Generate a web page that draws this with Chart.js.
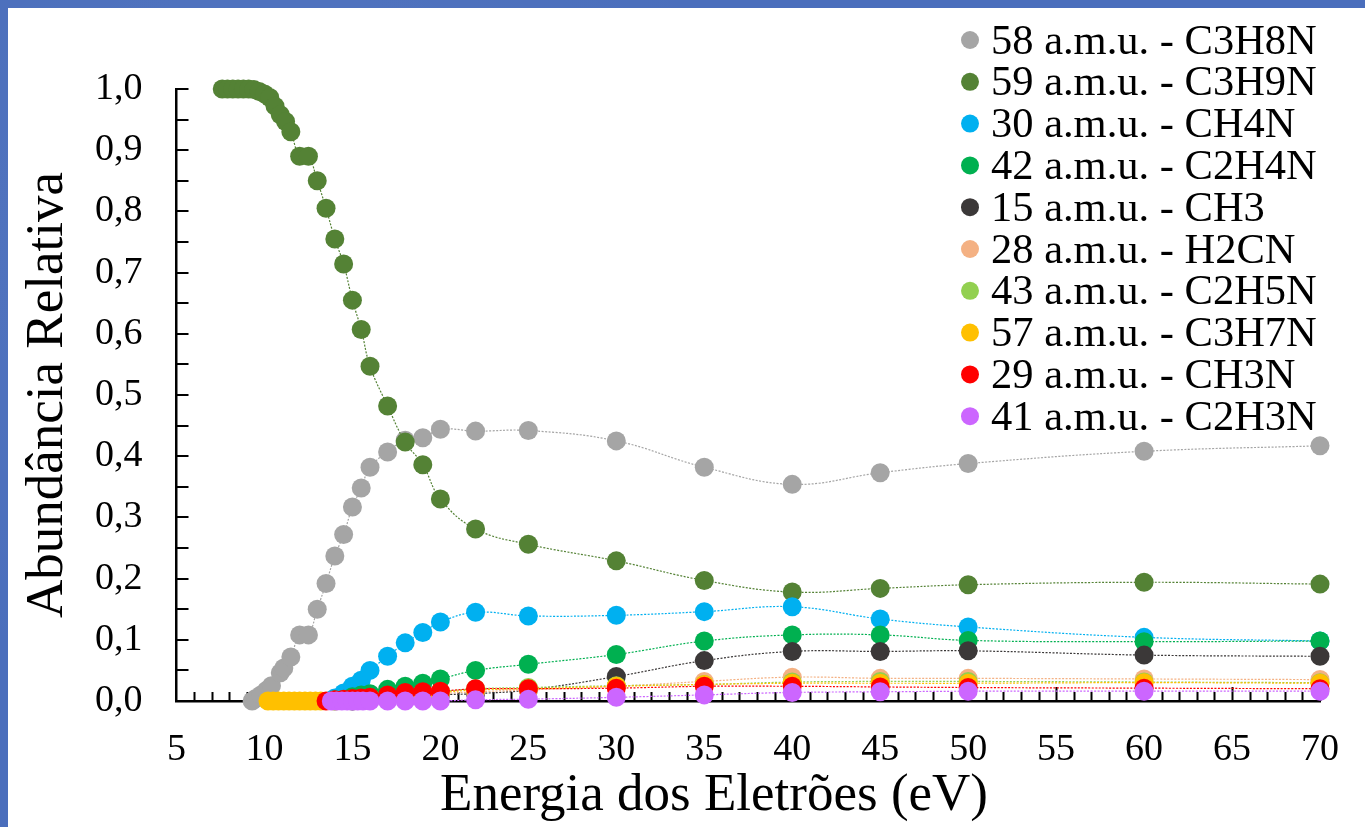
<!DOCTYPE html>
<html><head><meta charset="utf-8">
<script src="https://cdn.jsdelivr.net/npm/chart.js@4.4.1/dist/chart.umd.min.js"></script>
<style>
html,body{margin:0;padding:0;width:1365px;height:827px;overflow:hidden;}
body{background:#4a6ebc;background-image:radial-gradient(circle at 20% 30%,rgba(255,255,255,0.06),transparent 40%),radial-gradient(circle at 80% 70%,rgba(0,0,60,0.06),transparent 40%);}
#panel{position:absolute;left:8px;top:8px;right:0;bottom:0;background:#fff;}
#c{position:absolute;left:0;top:0;}
</style></head><body>
<div id="panel"></div>
<canvas id="c" width="1365" height="827"></canvas>
<script>
const seriesLabels = ['58 a.m.u. - C3H8N','59 a.m.u. - C3H9N','30 a.m.u. - CH4N','42 a.m.u. - C2H4N','15 a.m.u. - CH3','28 a.m.u. - H2CN','43 a.m.u. - C2H5N','57 a.m.u. - C3H7N','29 a.m.u. - CH3N','41 a.m.u. - C2H3N'];
const seriesColors = ['#A5A5A5','#548235','#00B0F0','#00B050','#3B3838','#F4B183','#92D050','#FFC000','#FF0000','#CC66FF'];

const e58 = [9.3,9.5,9.8,10.1,10.4,10.9,11.1,11.5,12,12.5,13,13.5,14,14.5,15,15.5,16,17,18,19,20,22,25,30,35,40,45,50,60,70];
const v58 = [0.000,0.004,0.010,0.017,0.025,0.046,0.054,0.072,0.108,0.108,0.150,0.192,0.237,0.272,0.317,0.348,0.382,0.407,0.426,0.430,0.444,0.441,0.442,0.425,0.382,0.354,0.373,0.388,0.408,0.417];

const e59 = [7.6,7.9,8.2,8.5,8.8,9.1,9.4,9.7,10.0,10.3,10.6,10.9,11.2,11.5,12,12.5,13,13.5,14,14.5,15,15.5,16,17,18,19,20,22,25,30,35,40,45,50,60,70];
const v59 = [1.000,1.000,1.000,1.000,1.000,1.000,0.999,0.996,0.992,0.986,0.972,0.958,0.947,0.930,0.890,0.890,0.850,0.805,0.755,0.714,0.655,0.607,0.547,0.482,0.423,0.386,0.330,0.281,0.256,0.229,0.197,0.178,0.184,0.190,0.194,0.191];

const e30 = [14,14.5,15,15.5,16,17,18,19,20,22,25,30,35,40,45,50,60,70];
const v30 = [0.005,0.013,0.024,0.034,0.050,0.073,0.095,0.112,0.129,0.145,0.139,0.140,0.146,0.154,0.134,0.121,0.104,0.098];

const e42 = [14,15,15.5,16,17,18,19,20,22,25,30,35,40,45,50,60,70];
const v42 = [0.002,0.007,0.010,0.012,0.019,0.024,0.029,0.036,0.050,0.060,0.076,0.098,0.108,0.108,0.099,0.097,0.098];

const e15 = [15,16,17,18,19,20,22,25,30,35,40,45,50,60,70];
const v15 = [0.000,0.002,0.004,0.006,0.008,0.010,0.012,0.018,0.040,0.066,0.081,0.081,0.082,0.075,0.073];

const e28 = [14,15,16,17,18,19,20,22,25,30,35,40,45,50,60,70];
const v28 = [0.000,0.002,0.004,0.006,0.008,0.010,0.012,0.015,0.018,0.024,0.032,0.039,0.037,0.037,0.036,0.035];

const e43 = [14,15,16,17,18,19,20,22,25,30,35,40,45,50,60,70];
const v43 = [0.000,0.003,0.005,0.008,0.010,0.012,0.015,0.020,0.022,0.025,0.027,0.031,0.032,0.032,0.031,0.030];

const e57 = [10.2,10.5,10.8,11.1,11.4,11.7,12.0,12.3,12.6,12.9,13.2,14,15,16,17,18,19,20,22,25,30,35,40,45,50,60,70];
const v57 = [0,0,0,0,0,0,0,0,0,0,0,0.001,0.003,0.005,0.008,0.010,0.012,0.014,0.018,0.020,0.024,0.027,0.029,0.029,0.029,0.030,0.029];

const e29 = [13.5,14,14.5,15,15.5,16,17,18,19,20,22,25,30,35,40,45,50,60,70];
const v29 = [0.000,0.002,0.003,0.004,0.005,0.006,0.010,0.014,0.015,0.016,0.020,0.020,0.021,0.024,0.024,0.023,0.022,0.021,0.020];

const e41 = [13.8,14.1,14.4,14.7,15.0,15.3,15.6,16.0,17,18,19,20,22,25,30,35,40,45,50,60,70];
const v41 = [0,0,0,0,0,0,0,0,0,0,0,0,0.002,0.003,0.006,0.010,0.014,0.015,0.016,0.016,0.016];

const xTickLabels = [5,10,15,20,25,30,35,40,45,50,55,60,65,70];
const yTickLabels = ['0,0','0,1','0,2','0,3','0,4','0,5','0,6','0,7','0,8','0,9','1,0'];

const energies = [e58,e59,e30,e42,e15,e28,e43,e57,e29,e41];
const values = [v58,v59,v30,v42,v15,v28,v43,v57,v29,v41];

const FONT = '"Liberation Serif", "Times New Roman", serif';

const datasets = seriesLabels.map((lab,i)=>({
  label: lab,
  data: energies[i].map((e,k)=>({x:e,y:values[i][k]})),
  showLine: true,
  borderColor: seriesColors[i],
  backgroundColor: seriesColors[i],
  pointBackgroundColor: seriesColors[i],
  pointBorderWidth: 0,
  pointRadius: 9.5,
  pointHoverRadius: 9.5,
  borderWidth: 1.2,
  borderDash: [2,1.5],
  tension: 0.4,
  clip: false,
  order: seriesLabels.length - i
}));

const axisTicks = {
  id:'axisTicks',
  beforeDatasetsDraw(chart){
    const {ctx, chartArea:a, scales:{x,y}} = chart;
    ctx.save(); ctx.strokeStyle='#000'; ctx.lineWidth=2;
    ctx.beginPath();
    for (let k=1;k<=20;k++){ const py=Math.round(y.getPixelForValue(k*0.05)); ctx.moveTo(a.left, py); ctx.lineTo(a.left+12, py); }
    for (let e=6;e<=70;e++){ const px=Math.round(x.getPixelForValue(e))+0.5; const len=(e%5===0)?14:9; ctx.moveTo(px,a.bottom); ctx.lineTo(px,a.bottom-len); }
    ctx.stroke(); ctx.restore();
  }
};

const extras = {
  id:'extras',
  afterDraw(chart){
    const ctx = chart.ctx;
    ctx.save();
    ctx.fillStyle='#000';
    ctx.font = '53px ' + FONT;
    ctx.textAlign='center'; ctx.textBaseline='alphabetic';
    ctx.fillText('Energia dos Eletrões (eV)', 714, 810);
    ctx.font = '42.5px ' + FONT;
    ctx.textAlign='left';
    seriesLabels.forEach((lab,i)=>{
      const cy = 40 + i*41.8;
      ctx.fillStyle = seriesColors[i];
      ctx.beginPath(); ctx.arc(970, cy, 9, 0, Math.PI*2); ctx.fill();
      ctx.fillStyle = '#000';
      ctx.fillText(lab, 991, cy + 13.5);
    });
    ctx.restore();
  }
};

new Chart(document.getElementById('c'), {
  type: 'scatter',
  data: { datasets },
  options: {
    responsive:false, animation:false, devicePixelRatio:1,
    layout:{padding:{top:89,right:33,left:0,bottom:0}},
    plugins:{legend:{display:false}, tooltip:{enabled:false}},
    scales:{
      x:{type:'linear', min:5, max:70,
        afterBuildTicks(s){ s.ticks = xTickLabels.map(v=>({value:v})); },
        ticks:{padding:26, color:'#000', font:{family:FONT,size:38}, callback:(v)=>String(v)},
        grid:{drawOnChartArea:false, drawTicks:false},
        border:{display:true, color:'#000', width:2.5},
        afterFit(s){ s.height = 126; }
      },
      y:{min:0, max:1,
        afterBuildTicks(s){ s.ticks = yTickLabels.map((t,k)=>({value:k/10})); },
        ticks:{padding:34, color:'#000', font:{family:FONT,size:38}, callback:(v)=>yTickLabels[Math.round(v*10)]},
        grid:{drawOnChartArea:false, drawTicks:false},
        border:{display:true, color:'#000', width:2.5},
        title:{display:true, text:'Abundância Relativa', color:'#000', font:{family:FONT,size:53}, padding:{top:16,bottom:0}},
        afterFit(s){ s.width = 176.5; }
      }
    }
  },
  plugins:[axisTicks, extras]
});
</script>
</body></html>
